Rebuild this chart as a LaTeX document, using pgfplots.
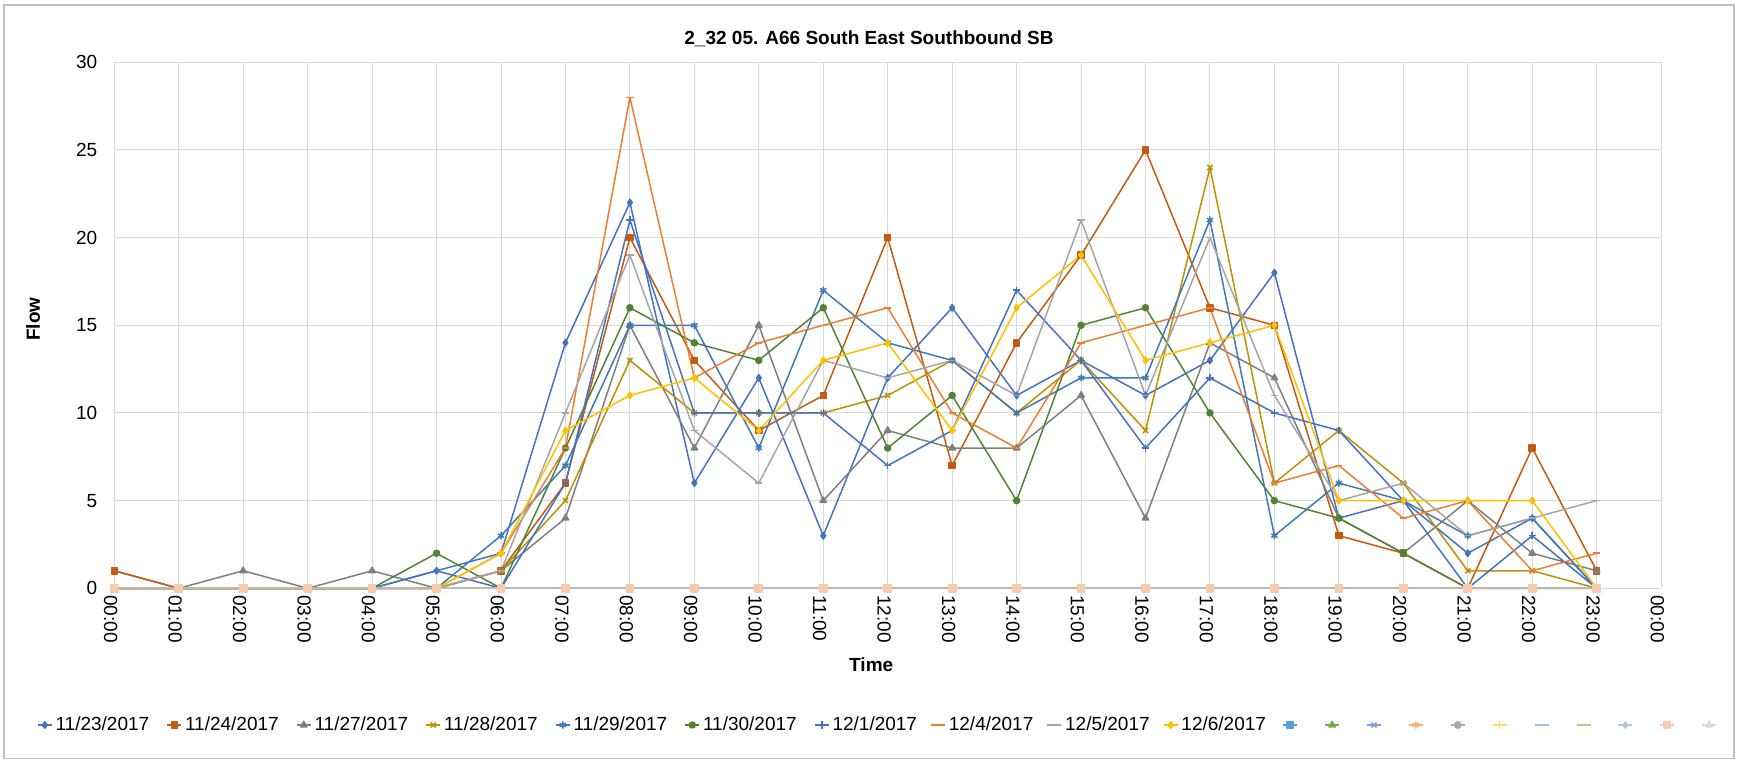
\documentclass[border=0pt]{standalone}
\usepackage{pgfplots}
\usepackage{pgfplotstable}
\pgfplotsset{compat=1.18}
\usepackage{fontspec}
\setmainfont{Liberation Sans}

\definecolor{cA}{HTML}{4472C4}
\definecolor{cB}{HTML}{C55A11}
\definecolor{cC}{HTML}{7F7F7F}
\definecolor{cD}{HTML}{BF9000}
\definecolor{cE}{HTML}{3F7AB5}
\definecolor{cF}{HTML}{548235}
\definecolor{cG}{HTML}{4472C4}
\definecolor{cH}{HTML}{ED7D31}
\definecolor{cI}{HTML}{A5A5A5}
\definecolor{cJ}{HTML}{FFC000}
\definecolor{e1}{HTML}{5B9BD5}
\definecolor{e2}{HTML}{70AD47}
\definecolor{e3}{HTML}{7F9FDA}
\definecolor{e4}{HTML}{F4B183}
\definecolor{e5}{HTML}{ABABAB}
\definecolor{e6}{HTML}{FFD966}
\definecolor{e7}{HTML}{9DC3E6}
\definecolor{e8}{HTML}{A9D18E}
\definecolor{e9}{HTML}{B4C7E7}
\definecolor{e10}{HTML}{F8CBAD}
\definecolor{e11}{HTML}{D9D9D9}
\definecolor{zeroline}{HTML}{BDB8B2}
\definecolor{gridgray}{HTML}{D9D9D9}
\definecolor{bordergray}{HTML}{BFBFBF}

\pgfplotstableread{
h  a  b  c  d  e  f  g  i  j  k  z
0  1  1  0  0  0  0  0  0  0  0  0
1  0  0  0  0  0  0  0  0  0  0  0
2  0  0  1  0  0  0  0  0  0  0  0
3  0  0  0  0  0  0  0  0  0  0  0
4  0  0  1  0  0  0  0  0  0  0  0
5  1  0  0  0  0  2  1  0  0  0  0
6  2  1  1  1  3  0  0  2  1  2  0
7  14 6  4  5  7  8  6  8  10 9  0
8  22 20 15 13 15 16 21 28 19 11 0
9  6  13 8  10 15 14 10 12 9  12 0
10 12 9  15 10 8  13 10 14 6  9  0
11 3  11 5  10 17 16 10 15 13 13 0
12 12 20 9  11 14 8  7  16 12 14 0
13 16 7  8  13 13 11 9  10 13 9  0
14 11 14 8  10 10 5  17 8  11 16 0
15 13 19 11 13 12 15 13 14 21 19 0
16 11 25 4  9  12 16 8  15 11 13 0
17 13 16 14 24 21 10 12 16 20 14 0
18 18 15 12 6  3  5  10 6  11 15 0
19 4  3  4  9  6  4  9  7  5  5  0
20 5  2  2  6  5  2  5  4  6  5  0
21 2  0  5  1  3  0  0  5  3  5  0
22 4  8  2  1  4  0  3  1  4  5  0
23 0  1  1  0  0  0  0  2  5  0  0
}\flowdata

\newcommand{\lt}[2]{\makebox[#1][l]{\hspace{1.5pt}#2}}

\begin{document}
\begin{tikzpicture}
\path[use as bounding box] (0,0) rectangle (869pt,380pt);
\draw[bordergray, line width=0.6pt] (2pt,0.6pt) rectangle (867pt,377.5pt);
\begin{axis}[
  at={(57.15pt,85.85pt)}, anchor=south west,
  scale only axis, width=773.4pt, height=263pt,
  xmin=0, xmax=24, ymin=0, ymax=30,
  xtick={0,...,24},
  xticklabels={00:00,01:00,02:00,03:00,04:00,05:00,06:00,07:00,08:00,09:00,10:00,11:00,12:00,13:00,14:00,15:00,16:00,17:00,18:00,19:00,20:00,21:00,22:00,23:00,00:00},
  ytick={0,5,...,30},
  grid=major, grid style={gridgray, line width=0.5pt},
  axis line style={draw=none},
  major tick length=0pt,
  tick label style={font=\fontsize{9.5}{11}\selectfont},
  xticklabel style={rotate=-90, anchor=west, yshift=-1.8pt},
  yticklabel style={xshift=-5pt},
  /pgf/number format/assume math mode=true,
  clip=false,
  every axis plot/.append style={line width=0.75pt, line join=round},
  legend columns=-1,
  legend style={at={(-0.0502,-0.2599)}, anchor=west, draw=none, fill=none,
    inner sep=0pt, font=\fontsize{9.5}{11}\selectfont,
    nodes={inner sep=0pt}, column sep=0pt},
  legend image code/.code={\draw[mark repeat=2,mark phase=2] plot coordinates {(0pt,0pt) (3.5pt,0pt) (7pt,0pt)};},
]
\addplot[cA, mark=diamond*, mark size=1.6pt, mark options={solid,fill=cA}] table[x=h,y=a]{\flowdata};
\addlegendentry{\lt{57pt}{11/23/2017}}
\addplot[cB, mark=square*, mark size=1.5pt, mark options={solid,fill=cB}] table[x=h,y=b]{\flowdata};
\addlegendentry{\lt{57pt}{11/24/2017}}
\addplot[cC, mark=triangle*, mark size=1.8pt, mark options={solid,fill=cC}] table[x=h,y=c]{\flowdata};
\addlegendentry{\lt{57pt}{11/27/2017}}
\addplot[cD, mark=x, mark size=1.8pt, mark options={solid}] table[x=h,y=d]{\flowdata};
\addlegendentry{\lt{57pt}{11/28/2017}}
\addplot[cE, mark=asterisk, mark size=1.8pt, mark options={solid}] table[x=h,y=e]{\flowdata};
\addlegendentry{\lt{57pt}{11/29/2017}}
\addplot[cF, mark=*, mark size=1.5pt, mark options={solid,fill=cF}] table[x=h,y=f]{\flowdata};
\addlegendentry{\lt{57pt}{11/30/2017}}
\addplot[cG, mark=+, mark size=1.8pt, mark options={solid}] table[x=h,y=g]{\flowdata};
\addlegendentry{\lt{50.4pt}{12/1/2017}}
\addplot[cH, mark=-, mark size=1.8pt, mark options={solid}] table[x=h,y=i]{\flowdata};
\addlegendentry{\lt{50.4pt}{12/4/2017}}
\addplot[cI, mark=-, mark size=1.8pt, mark options={solid}] table[x=h,y=j]{\flowdata};
\addlegendentry{\lt{50.4pt}{12/5/2017}}
\addplot[cJ, mark=diamond*, mark size=1.6pt, mark options={solid,fill=cJ}] table[x=h,y=k]{\flowdata};
\addlegendentry{\lt{52pt}{12/6/2017}}

% the eleven empty series, all at zero, drawn over the others as in the original
\addplot[forget plot, e1, mark=square*, mark size=1.6pt, mark options={solid,fill=e1}] table[x=h,y=z]{\flowdata};
\addplot[forget plot, e2, mark=triangle*, mark size=1.8pt, mark options={solid,fill=e2}] table[x=h,y=z]{\flowdata};
\addplot[forget plot, e3, mark=x, mark size=1.8pt, mark options={solid}] table[x=h,y=z]{\flowdata};
\addplot[forget plot, e4, mark=asterisk, mark size=1.8pt, mark options={solid}] table[x=h,y=z]{\flowdata};
\addplot[forget plot, e5, mark=*, mark size=1.6pt, mark options={solid,fill=e5}] table[x=h,y=z]{\flowdata};
\addplot[forget plot, e6, mark=+, mark size=1.8pt, mark options={solid}] table[x=h,y=z]{\flowdata};
\addplot[forget plot, e7, mark=-, mark size=1.8pt, mark options={solid}] table[x=h,y=z]{\flowdata};
\addplot[forget plot, e8, mark=-, mark size=1.8pt, mark options={solid}] table[x=h,y=z]{\flowdata};
\addplot[forget plot, e9, mark=diamond*, mark size=1.6pt, mark options={solid,fill=e9}] table[x=h,y=z]{\flowdata};
\addplot[forget plot, e10, mark=square*, mark size=1.8pt, mark options={solid,fill=e10}] table[x=h,y=z]{\flowdata};
\addplot[forget plot, zeroline, line width=1pt] table[x=h,y=z]{\flowdata};

\addlegendimage{e1, line width=0.75pt, mark=square*, mark size=1.6pt, mark options={solid,fill=e1}}
\addlegendentry{\lt{13.2pt}{}}
\addlegendimage{e2, line width=0.75pt, mark=triangle*, mark size=1.8pt, mark options={solid,fill=e2}}
\addlegendentry{\lt{13.2pt}{}}
\addlegendimage{e3, line width=0.75pt, mark=x, mark size=1.8pt, mark options={solid}}
\addlegendentry{\lt{13.2pt}{}}
\addlegendimage{e4, line width=0.75pt, mark=asterisk, mark size=1.8pt, mark options={solid}}
\addlegendentry{\lt{13.2pt}{}}
\addlegendimage{e5, line width=0.75pt, mark=*, mark size=1.6pt, mark options={solid,fill=e5}}
\addlegendentry{\lt{13.2pt}{}}
\addlegendimage{e6, line width=0.75pt, mark=+, mark size=1.8pt, mark options={solid}}
\addlegendentry{\lt{13.2pt}{}}
\addlegendimage{e7, line width=0.75pt, mark=-, mark size=1.8pt, mark options={solid}}
\addlegendentry{\lt{13.2pt}{}}
\addlegendimage{e8, line width=0.75pt, mark=-, mark size=1.8pt, mark options={solid}}
\addlegendentry{\lt{13.2pt}{}}
\addlegendimage{e9, line width=0.75pt, mark=diamond*, mark size=1.6pt, mark options={solid,fill=e9}}
\addlegendentry{\lt{13.2pt}{}}
\addlegendimage{e10, line width=0.75pt, mark=square*, mark size=1.6pt, mark options={solid,fill=e10}}
\addlegendentry{\lt{13.2pt}{}}
\addlegendimage{e11, line width=0.75pt, mark=triangle*, mark size=1.8pt, mark options={solid,fill=e11}}
\addlegendentry{\lt{13.2pt}{}}
\end{axis}
\node[font=\bfseries\fontsize{9.5}{11}\selectfont] at (434.5pt,360.6pt) {2\_32 05. A66 South East Southbound SB};
\node[font=\bfseries\fontsize{9.5}{11}\selectfont, rotate=90] at (16.6pt,220.5pt) {Flow};
\node[font=\bfseries\fontsize{9.5}{11}\selectfont] at (435.6pt,47.5pt) {Time};
\end{tikzpicture}
\end{document}
